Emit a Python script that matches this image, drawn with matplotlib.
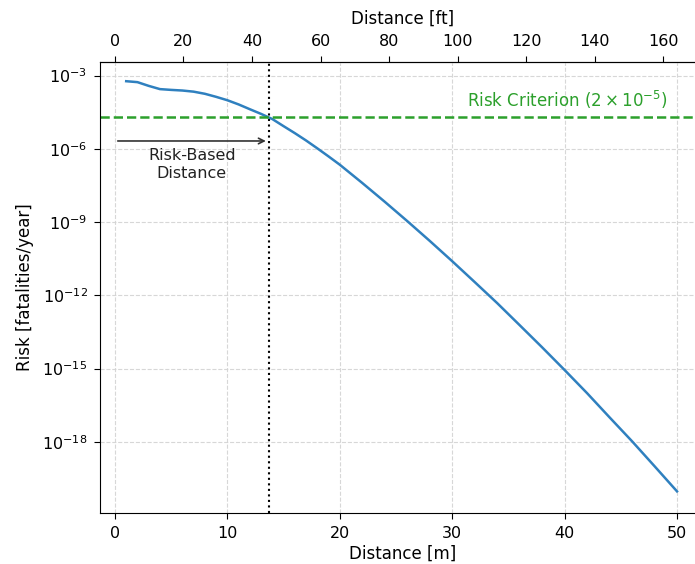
import matplotlib
matplotlib.use("Agg")
import matplotlib.pyplot as plt
from matplotlib import ticker

# distance from source [m] and individual risk [fatalities/year]
distance_m = [1, 2, 3, 4, 5, 6, 7, 8, 9, 10,
              11, 12, 13, 14, 15, 16, 17, 18, 19, 20,
              22, 24, 26, 28, 30, 32, 34, 36, 38, 40,
              42, 44, 46, 48, 50]
risk = [5.9e-4, 5.4e-4, 3.8e-4, 2.8e-4, 2.6e-4, 2.45e-4, 2.2e-4, 1.8e-4, 1.35e-4, 9.8e-5,
        6.6e-5, 4.2e-5, 2.7e-5, 1.66e-5, 8.5e-6, 4.4e-6, 2.2e-6, 1.05e-6, 4.9e-7, 2.24e-7,
        4.0e-8, 6.8e-9, 1.1e-9, 1.7e-10, 2.5e-11, 3.5e-12, 4.8e-13, 6.0e-14, 7.4e-15, 8.7e-16,
        9.8e-17, 1.0e-17, 1.05e-18, 1.0e-19, 9.3e-21]

risk_criterion = 2e-5
risk_based_distance = 13.67  # m, where the curve meets the criterion
M_TO_FT = 3.28084

fig = plt.figure(figsize=(6.95, 5.64), dpi=100)
ax = fig.add_axes([0.1439, 0.0899, 0.87, 0.8007])

ax.plot(distance_m, risk, color='#2f80bf', lw=1.8)
ax.axhline(risk_criterion, color='tab:green', ls='--', lw=1.8)
ax.axvline(risk_based_distance, color='k', ls=':', lw=1.5)

ax.set_yscale('log')
ax.set_xlim(-1.33, 52.46)
ax.set_ylim(10 ** -20.93, 10 ** -2.43)
ax.set_yticks([1e-3, 1e-6, 1e-9, 1e-12, 1e-15, 1e-18])
ax.yaxis.set_minor_locator(ticker.NullLocator())
ax.set_xticks([0, 10, 20, 30, 40, 50])
ax.grid(True, ls='--', color='lightgray', lw=0.8, alpha=0.9)

ax.text(49.2, risk_criterion * 1.8, r'Risk Criterion ($2 \times 10^{-5}$)',
        color='tab:green', ha='right', va='bottom', fontsize=12)

# arrow showing the risk-based separation distance
ax.annotate('', xy=(risk_based_distance, 2.1e-6), xytext=(0, 2.1e-6),
            arrowprops=dict(arrowstyle='->', color='#333333', lw=1.2))
ax.text(risk_based_distance / 2, 1.1e-6, 'Risk-Based\nDistance',
        ha='center', va='top', fontsize=11.5, color='#222222', linespacing=1.25)

ax.set_xlabel('Distance [m]', fontsize=12, labelpad=3)
ax.set_ylabel('Risk [fatalities/year]', fontsize=12, labelpad=6)

top = ax.secondary_xaxis('top', functions=(lambda x: x * M_TO_FT, lambda x: x / M_TO_FT))
top.set_xticks([0, 20, 40, 60, 80, 100, 120, 140, 160])
top.set_xlabel('Distance [ft]', fontsize=12, labelpad=7)

ax.tick_params(labelsize=11.5, length=4.5, pad=4.5)
top.tick_params(labelsize=11.5, length=4.5, pad=5)

fig.savefig('out.png', dpi=100)
